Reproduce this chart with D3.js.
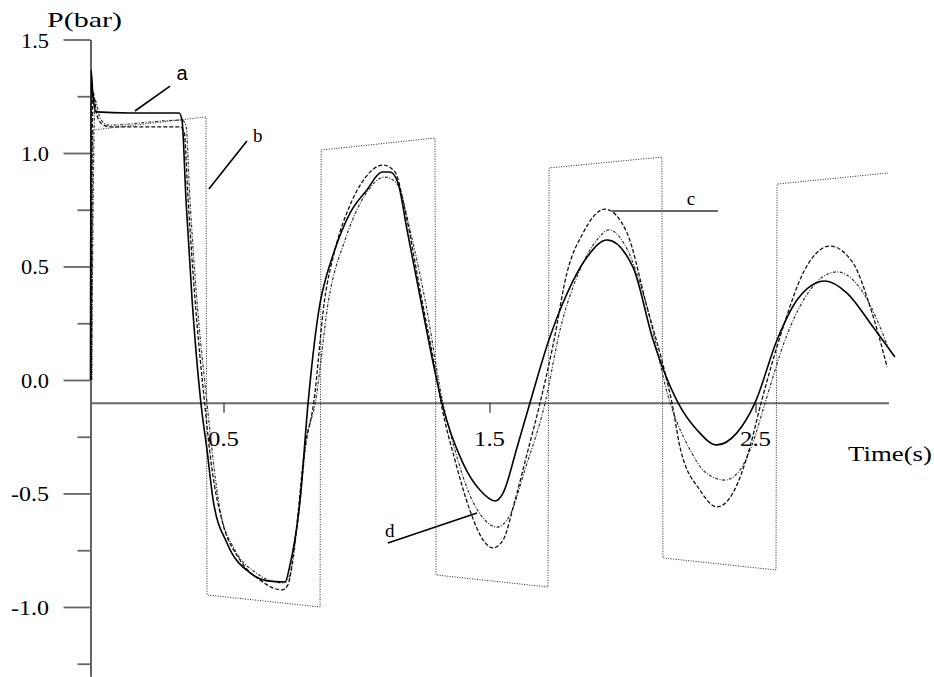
<!DOCTYPE html>
<html>
<head>
<meta charset="utf-8">
<script src="https://cdn.jsdelivr.net/npm/d3@7"></script>
<style>
  body { margin: 0; background: #fff; }
  svg { display: block; }
</style>
</head>
<body>
<svg id="chart"></svg>
<script>
// time (s), pressure (bar)
var seriesA = [ // solid
  [0, 0], [0.002, 1.366], [0.009, 1.256], [0.021, 1.181], [0.148, 1.176], [0.333, 1.176],
  [0.344, 1.145], [0.359, 0.793], [0.382, 0.352], [0.415, -0.101], [0.438, -0.308],
  [0.461, -0.529], [0.513, -0.718], [0.600, -0.850], [0.664, -0.885], [0.731, -0.890],
  [0.750, -0.815], [0.788, -0.529], [0.818, -0.101], [0.863, 0.339], [0.885, 0.450],
  [0.912, 0.552], [0.976, 0.736], [1.039, 0.837], [1.096, 0.916], [1.126, 0.916],
  [1.156, 0.868], [1.190, 0.661], [1.239, 0.366], [1.288, 0.075], [1.321, -0.101],
  [1.400, -0.366], [1.464, -0.485], [1.521, -0.533], [1.551, -0.498], [1.604, -0.295],
  [1.652, -0.101], [1.727, 0.189], [1.776, 0.339], [1.867, 0.542], [1.942, 0.617],
  [2.039, 0.498], [2.115, 0.176], [2.209, -0.101], [2.280, -0.220], [2.355, -0.286],
  [2.430, -0.233], [2.498, -0.101], [2.581, 0.176], [2.656, 0.352], [2.761, 0.436],
  [2.844, 0.383], [2.942, 0.233], [3.024, 0.101]
];

var seriesB = [ // dotted square wave
  [0.006, 0], [0.009, 1.101], [0.434, 1.159], [0.438, -0.947], [0.863, -1.000],
  [0.867, 1.013], [1.295, 1.066], [1.299, -0.859], [1.720, -0.912], [1.724, 0.934],
  [2.148, 0.982], [2.152, -0.784], [2.577, -0.837], [2.581, 0.863], [2.998, 0.912]
];

var seriesC = [ // dashed
  [0.002, 0], [0.009, 1.269], [0.024, 1.167], [0.043, 1.128], [0.073, 1.115], [0.336, 1.115],
  [0.352, 1.093], [0.367, 0.793], [0.393, 0.352], [0.429, -0.101], [0.457, -0.396],
  [0.494, -0.617], [0.562, -0.793], [0.637, -0.881], [0.720, -0.925], [0.742, -0.903],
  [0.769, -0.705], [0.805, -0.308], [0.839, -0.101], [0.880, 0.352], [0.919, 0.573],
  [0.976, 0.771], [1.032, 0.890], [1.100, 0.947], [1.145, 0.916], [1.182, 0.749],
  [1.239, 0.396], [1.303, 0], [1.318, -0.101], [1.370, -0.352], [1.426, -0.573],
  [1.476, -0.705], [1.513, -0.740], [1.551, -0.705], [1.596, -0.529], [1.645, -0.308],
  [1.690, -0.101], [1.739, 0.154], [1.791, 0.471], [1.852, 0.648], [1.934, 0.753],
  [2.017, 0.648], [2.092, 0.322], [2.160, 0.031], [2.186, -0.101], [2.216, -0.295],
  [2.291, -0.485], [2.355, -0.559], [2.415, -0.498], [2.479, -0.295], [2.521, -0.101],
  [2.604, 0.233], [2.679, 0.471], [2.780, 0.590], [2.867, 0.515], [2.931, 0.322],
  [2.995, 0.057]
];

var seriesD = [ // dash-dot
  [0.004, 0], [0.017, 1.233], [0.036, 1.154], [0.066, 1.123], [0.344, 1.145], [0.359, 1.119],
  [0.374, 0.793], [0.400, 0.352], [0.438, -0.101], [0.461, -0.352], [0.487, -0.573],
  [0.543, -0.749], [0.618, -0.846], [0.724, -0.894], [0.750, -0.859], [0.780, -0.617],
  [0.812, -0.264], [0.845, -0.101], [0.895, 0.352], [0.957, 0.617], [1.032, 0.815],
  [1.107, 0.894], [1.156, 0.859], [1.201, 0.661], [1.258, 0.352], [1.325, -0.101],
  [1.370, -0.308], [1.426, -0.507], [1.483, -0.617], [1.528, -0.648], [1.577, -0.595],
  [1.633, -0.396], [1.709, -0.101], [1.765, 0.220], [1.840, 0.485], [1.904, 0.617],
  [1.949, 0.661], [2.009, 0.595], [2.085, 0.352], [2.179, -0.101], [2.254, -0.308],
  [2.310, -0.405], [2.385, -0.441], [2.442, -0.396], [2.487, -0.286], [2.536, -0.101],
  [2.611, 0.176], [2.705, 0.396], [2.806, 0.476], [2.874, 0.432], [2.931, 0.330],
  [2.995, 0.154]
];

var yMajorTicks = [-1.0, -0.5, 0.0, 0.5, 1.0, 1.5];
var yMinorTicks = [-1.25, -0.75, -0.25, 0.25, 0.75, 1.25];
var xTicks = [0.5, 1.5, 2.5];
var xAxisLevel = -0.1;

// pointer lines for the curve names: [label, from, to, label position]
var pointers = [
  ['a', [0.167, 1.185], [0.299, 1.295], [0.344, 1.322]],
  ['b', [0.445, 0.841], [0.588, 1.053], [0.611, 1.048]],
  ['c', [1.960, 0.744], [2.359, 0.744], [2.242, 0.771]],
  ['d', [1.118, -0.718], [1.453, -0.586], [1.107, -0.692]]
];

var svgWidth = 934, svgHeight = 677;
var serif = "Times New Roman, Liberation Serif, serif";

var svg = d3.select('#chart')
  .attr('width', svgWidth)
  .attr('height', svgHeight);

var x = d3.scaleLinear().domain([0, 3]).range([90.5, 888.5]);
var y = d3.scaleLinear().domain([-1.305, 1.5]).range([676.2, 39.5]);

// y axis, major + minor ticks
var yAxis = svg.append('g')
  .attr('transform', 'translate(' + x(0) + ',0)')
  .call(d3.axisLeft(y).tickValues(yMajorTicks).tickSize(27).tickSizeOuter(0).tickFormat(''));
yAxis.select('.domain').attr('stroke', '#222').attr('stroke-width', 1.4);
yAxis.selectAll('.tick line').attr('stroke', '#666').attr('stroke-width', 1.8);

var yMinor = svg.append('g')
  .attr('transform', 'translate(' + x(0) + ',0)')
  .call(d3.axisLeft(y).tickValues(yMinorTicks).tickSize(13).tickFormat(''));
yMinor.select('.domain').remove();
yMinor.selectAll('.tick line').attr('stroke', '#666').attr('stroke-width', 1.8);

svg.append('g').selectAll('text')
  .data(yMajorTicks)
  .enter().append('text')
  .attr('x', 49)
  .attr('y', function(d) { return y(d) + 8; })
  .attr('text-anchor', 'end')
  .style('font-family', serif)
  .attr('font-size', 21)
  .attr('textLength', function(d) { return d < 0 ? 38 : 28; })
  .attr('lengthAdjust', 'spacingAndGlyphs')
  .text(function(d) { return d.toFixed(1); });

// x axis sits at P = -0.1
var xAxis = svg.append('g')
  .attr('transform', 'translate(0,' + y(xAxisLevel) + ')')
  .call(d3.axisBottom(x).tickValues(xTicks).tickSize(10).tickSizeOuter(0).tickFormat(''));
xAxis.select('.domain').attr('stroke', '#6a6a6a').attr('stroke-width', 2);
xAxis.selectAll('.tick line').attr('stroke', '#333').attr('stroke-width', 1.2);

svg.append('g').selectAll('text')
  .data(xTicks)
  .enter().append('text')
  .attr('x', function(d) { return x(d) - 15.5; })
  .attr('y', 446)
  .style('font-family', serif)
  .attr('font-size', 21)
  .attr('textLength', 31)
  .attr('lengthAdjust', 'spacingAndGlyphs')
  .text(function(d) { return d.toFixed(1); });

svg.append('text')
  .attr('x', 47).attr('y', 27)
  .style('font-family', serif).attr('font-size', 22)
  .attr('textLength', 75).attr('lengthAdjust', 'spacingAndGlyphs')
  .text('P(bar)');

svg.append('text')
  .attr('x', 848).attr('y', 461)
  .style('font-family', serif).attr('font-size', 21)
  .attr('textLength', 84).attr('lengthAdjust', 'spacingAndGlyphs')
  .text('Time(s)');

// curves
var smooth = d3.line()
  .x(function(d) { return x(d[0]); })
  .y(function(d) { return y(d[1]); })
  .curve(d3.curveMonotoneX);

var straight = d3.line()
  .x(function(d) { return x(d[0]); })
  .y(function(d) { return y(d[1]); });

svg.append('path')
  .attr('d', straight(seriesB))
  .attr('fill', 'none')
  .attr('stroke', '#222')
  .attr('stroke-width', 1)
  .attr('stroke-dasharray', '1,1.5');

svg.append('path')
  .attr('d', smooth(seriesD))
  .attr('fill', 'none')
  .attr('stroke', '#333')
  .attr('stroke-width', 1.2)
  .attr('stroke-dasharray', '3,1.5,1,1.5');

svg.append('path')
  .attr('d', smooth(seriesC))
  .attr('fill', 'none')
  .attr('stroke', '#111')
  .attr('stroke-width', 1.3)
  .attr('stroke-dasharray', '4,2');

svg.append('path')
  .attr('d', smooth(seriesA))
  .attr('fill', 'none')
  .attr('stroke', '#000')
  .attr('stroke-width', 1.6);

// curve names
svg.append('g').selectAll('line')
  .data(pointers)
  .enter().append('line')
  .attr('x1', function(d) { return x(d[1][0]); })
  .attr('y1', function(d) { return y(d[1][1]); })
  .attr('x2', function(d) { return x(d[2][0]); })
  .attr('y2', function(d) { return y(d[2][1]); })
  .attr('stroke', function(d) { return d[0] == 'c' ? '#666' : '#000'; })
  .attr('stroke-width', function(d) { return d[0] == 'c' ? 2 : 1.6; });

svg.append('g').selectAll('text')
  .data(pointers)
  .enter().append('text')
  .attr('x', function(d) { return x(d[3][0]); })
  .attr('y', function(d) { return y(d[3][1]); })
  .attr('text-anchor', function(d) { return d[0] == 'a' ? 'middle' : 'start'; })
  .style('font-family', function(d) { return d[0] == 'a' ? 'Arial, Liberation Sans, sans-serif' : serif; })
  .attr('font-size', function(d) { return d[0] == 'a' ? 20 : 19; })
  .text(function(d) { return d[0]; });
</script>
</body>
</html>
